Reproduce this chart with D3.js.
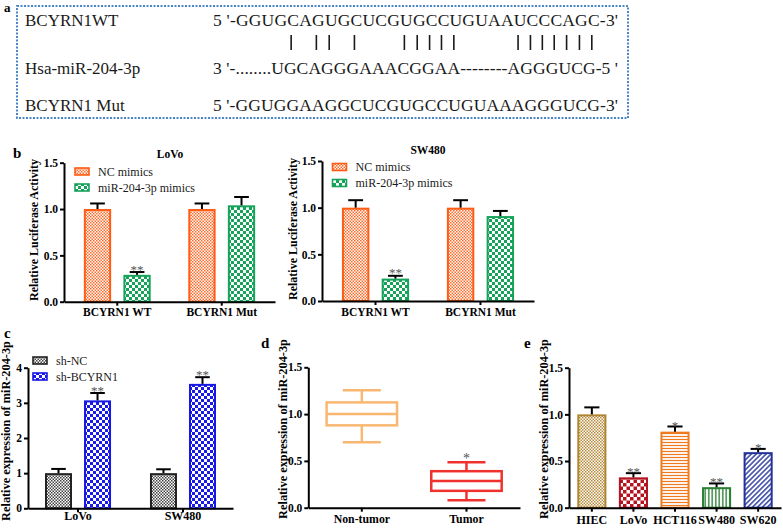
<!DOCTYPE html>
<html><head><meta charset="utf-8">
<script src="https://cdn.jsdelivr.net/npm/d3@7"></script>
<style>
body{margin:0;background:#fff}
svg{display:block}
svg text{font-family:'Liberation Serif','DejaVu Serif','Noto Serif',serif !important}
</style>
</head><body>
<svg id="chart" width="783" height="528" font-family="'Liberation Serif','DejaVu Serif',serif"></svg>
<script>
// ---------- DATA ----------
// Panel a
const seqLabels = ["BCYRN1WT", "Hsa-miR-204-3p", "BCYRN1 Mut"];
const seqTexts = [
  "5 '-GGUGCAGUGCUCGUGCCUGUAAUCCCAGC-3'",
  "3 '-........UGCAGGGAAACGGAA--------AGGGUCG-5 '",
  "5 '-GGUGGAAGGCUCGUGCCUGUAAAGGGUCG-3'"
];
// character indices (in the WT string) that carry a pairing bar
const pairIndex = [8, 10, 11, 13, 17, 18, 19, 20, 21, 26, 27, 28, 29, 30, 31, 32];

// Panel b
const bGroups = ["BCYRN1 WT", "BCYRN1 Mut"];
const bSeries = ["NC mimics", "miR-204-3p mimics"];
const lovoNC = [1.00, 1.00];
const lovoNCErr = [0.06, 0.06];
const lovoMimic = [0.29, 1.04];
const lovoMimicErr = [0.03, 0.09];
const lovoSig = [["", ""], ["**", ""]];
const swNC = [1.00, 1.00];
const swNCErr = [0.08, 0.08];
const swMimic = [0.24, 0.91];
const swMimicErr = [0.03, 0.055];
const swSig = [["", ""], ["**", ""]];
const bTicks = [0, 0.5, 1.0, 1.5];

// Panel c
const cGroups = ["LoVo", "SW480"];
const cSeries = ["sh-NC", "sh-BCYRN1"];
const shNC = [1.00, 1.00];
const shNCErr = [0.12, 0.11];
const shB = [3.07, 3.54];
const shBErr = [0.21, 0.19];
const cSig = [["", ""], ["**", "**"]];
const cTicks = [0, 1, 2, 3, 4];

// Panel d
const dCategories = ["Non-tumor", "Tumor"];
const dMin = [0.70, 0.08];
const dQ1 = [0.88, 0.18];
const dMedian = [1.00, 0.285];
const dQ3 = [1.125, 0.39];
const dMax = [1.255, 0.485];
const dSig = ["", "*"];
const dTicks = [0, 0.5, 1.0, 1.5];

// Panel e
const eCells = ["HIEC", "LoVo", "HCT116", "SW480", "SW620"];
const eValues = [1.00, 0.325, 0.815, 0.22, 0.595];
const eErr = [0.075, 0.045, 0.055, 0.04, 0.035];
const eSig = ["", "**", "*", "**", "*"];
const eTicks = [0, 0.5, 1.0, 1.5];

// ---------- DRAW ----------
const svg = d3.select("#chart");
const defs = svg.append("defs");
const FONT = "'Liberation Serif','DejaVu Serif',serif";

function checker(id, s, color, bg) {
  const p = defs.append("pattern").attr("id", id).attr("patternUnits", "userSpaceOnUse")
    .attr("width", s * 2).attr("height", s * 2);
  p.append("rect").attr("width", s * 2).attr("height", s * 2).attr("fill", bg || "#fff");
  p.append("rect").attr("width", s).attr("height", s).attr("fill", color);
  p.append("rect").attr("x", s).attr("y", s).attr("width", s).attr("height", s).attr("fill", color);
}
function stripes(id, s, color, angle, lw) {
  const p = defs.append("pattern").attr("id", id).attr("patternUnits", "userSpaceOnUse")
    .attr("width", s).attr("height", s).attr("patternTransform", `rotate(${angle})`);
  p.append("rect").attr("width", s).attr("height", s).attr("fill", "#fff");
  p.append("line").attr("x1", 0).attr("y1", s / 2).attr("x2", s).attr("y2", s / 2)
    .attr("stroke", color).attr("stroke-width", lw);
}
checker("pNC", 1.5, "#FF6A2A");
checker("pMim", 3, "#17A25A");
checker("pShNC", 1.5, "#444");
checker("pShB", 3, "#1A1AE8");
checker("pHIEC", 1.5, "#B98A3A");
checker("pLoVo", 3.5, "#B5141E");
stripes("pHCT", 3, "#EF7A1F", 0, 1.2);
stripes("pSW480", 3.5, "#2C8035", 90, 1.4);
stripes("pSW620", 3.5, "#22329A", -45, 1.4);

function txt(x, y, fs) {
  return svg.append("text").attr("x", x).attr("y", y).attr("font-size", fs).attr("font-family", FONT);
}
function letter(t, x, y, fs) {
  txt(x, y, fs || 15).attr("font-weight", "bold").text(t);
}

// ----- Panel a -----
letter("a", 4, 12, 13);
svg.append("rect").attr("x", 17).attr("y", 6).attr("width", 611).attr("height", 112)
  .attr("fill", "none").attr("stroke", "#4A86C8").attr("stroke-width", 2)
  .attr("stroke-dasharray", "2,1.5");
const rowY = [26, 74, 111];
seqLabels.forEach((t, i) => {
  txt(25, rowY[i], 17).attr("fill", "#1a1a1a").text(t);
});
const seqNodes = seqTexts.map((t, i) =>
  txt(213, rowY[i], 17.5).attr("fill", "#1a1a1a").attr("textLength", 405)
    .attr("lengthAdjust", "spacing").text(t).node());
pairIndex.forEach(ci => {
  const ext = seqNodes[0].getExtentOfChar(ci);
  const cx = ext.x + ext.width / 2 - 2;
  svg.append("line").attr("x1", cx).attr("x2", cx).attr("y1", 35).attr("y2", 50)
    .attr("stroke", "#1a1a1a").attr("stroke-width", 1.6);
});

// ----- helpers -----
function styleAxis(g, fs) {
  g.attr("font-family", FONT);
  g.selectAll("path,line").attr("stroke", "#000").attr("stroke-width", 2);
  g.selectAll("text").attr("font-family", FONT).attr("font-weight", "bold")
    .attr("font-size", fs || 11.5).attr("fill", "#000");
}
function yAxis(y, x0, ticks, fmt) {
  const g = svg.append("g").attr("transform", `translate(${x0},0)`)
    .call(d3.axisLeft(y).tickValues(ticks).tickFormat(fmt).tickSize(4).tickSizeOuter(0).tickPadding(2));
  styleAxis(g);
}
function xAxis(x, y0, fs, pad) {
  const g = svg.append("g").attr("transform", `translate(0,${y0})`)
    .call(d3.axisBottom(x).tickSize(4).tickSizeOuter(0).tickPadding(pad));
  styleAxis(g, fs);
}
function yLabel(t, x, cy, fs) {
  svg.append("text").attr("transform", `translate(${x},${cy}) rotate(-90)`).attr("font-family", FONT)
    .attr("text-anchor", "middle").attr("font-size", fs || 12.3).attr("font-weight", "bold").text(t);
}
function errBar(cx, y, v, e, cap) {
  svg.append("line").attr("x1", cx).attr("x2", cx).attr("y1", y(v)).attr("y2", y(v + e))
    .attr("stroke", "#000").attr("stroke-width", 2);
  svg.append("line").attr("x1", cx - cap).attr("x2", cx + cap).attr("y1", y(v + e)).attr("y2", y(v + e))
    .attr("stroke", "#000").attr("stroke-width", 2);
}
function star(t, cx, yy, fs) {
  if (!t) return;
  txt(cx, yy, fs || 13).attr("text-anchor", "middle").attr("fill", "#555").text(t);
}

function groupedPanel(cfg) {
  const x0 = d3.scaleBand().domain(cfg.groups).range(cfg.xRange)
    .paddingInner(cfg.pIn).paddingOuter(cfg.pOut);
  const x1 = d3.scaleBand().domain(cfg.series).range([0, x0.bandwidth()]).paddingInner(cfg.pSub);
  const y = d3.scaleLinear().domain([0, cfg.yMax]).range(cfg.yRange);
  cfg.series.forEach((s, si) => {
    cfg.groups.forEach((g, gi) => {
      const v = cfg.values[si][gi], e = cfg.errors[si][gi];
      const bx = x0(g) + x1(s), bw = x1.bandwidth();
      svg.append("rect").attr("x", bx + 1).attr("y", y(v) + 1).attr("width", bw - 2)
        .attr("height", y(0) - y(v) - 1).attr("fill", `url(#${cfg.patterns[si]})`)
        .attr("stroke", cfg.colors[si]).attr("stroke-width", 2);
      errBar(bx + bw / 2, y, v, e, bw * 0.27);
      star(cfg.sig[si][gi], bx + bw / 2, y(v + e) + 1.5);
    });
  });
  xAxis(x0, y(0), cfg.catFs || 11.5, cfg.catPad);
  yAxis(y, cfg.xRange[0], cfg.ticks, cfg.fmt);
  // legend
  cfg.series.forEach((s, si) => {
    const ly = cfg.legend[1] + si * 16;
    svg.append("rect").attr("x", cfg.legend[0]).attr("y", ly - 3.5).attr("width", 14).attr("height", 7)
      .attr("fill", `url(#${cfg.patterns[si]})`).attr("stroke", cfg.colors[si]).attr("stroke-width", 1.6);
    txt(cfg.legend[0] + 23, ly + 4, 12).attr("fill", "#1a1a1a").text(s);
  });
}

// ----- Panel b -----
letter("b", 13, 158, 15);
txt(170, 158, 11.5).attr("text-anchor", "middle").attr("font-weight", "bold").text("LoVo");
groupedPanel({
  groups: bGroups, series: bSeries, values: [lovoNC, lovoMimic], errors: [lovoNCErr, lovoMimicErr],
  sig: [lovoSig[0], lovoSig[1]], colors: ["#FF5B12", "#17A25A"], patterns: ["pNC", "pMim"],
  xRange: [64, 275], yRange: [301.7, 162.7], yMax: 1.5, ticks: bTicks, fmt: d3.format(".1f"),
  pIn: 0.36, pOut: 0.19, pSub: 0.31, legend: [75, 171.5], catPad: 2.5
});
yLabel("Relative Luciferase Activity", 38, 230, 12);

txt(428, 154, 11.5).attr("text-anchor", "middle").attr("font-weight", "bold").text("SW480");
groupedPanel({
  groups: bGroups, series: bSeries, values: [swNC, swMimic], errors: [swNCErr, swMimicErr],
  sig: [swSig[0], swSig[1]], colors: ["#FF5B12", "#17A25A"], patterns: ["pNC", "pMim"],
  xRange: [322, 534], yRange: [301, 161], yMax: 1.5, ticks: bTicks, fmt: d3.format(".1f"),
  pIn: 0.36, pOut: 0.19, pSub: 0.31, legend: [332.5, 167], catPad: 2.5
});
yLabel("Relative Luciferase Activity", 297, 229, 12);

// ----- Panel c -----
letter("c", 4, 338, 15);
groupedPanel({
  groups: cGroups, series: cSeries, values: [shNC, shB], errors: [shNCErr, shBErr],
  sig: [cSig[0], cSig[1]], colors: ["#222", "#1616E6"], patterns: ["pShNC", "pShB"],
  xRange: [28, 233], yRange: [508.3, 367.7], yMax: 4, ticks: cTicks, fmt: d3.format("d"),
  pIn: 0.371, pOut: 0.162, pSub: 0.308, legend: [33, 360.5], catFs: 12, catPad: -0.5
});
yLabel("Relative expression of miR-204-3p", 10, 431);

// ----- Panel d -----
letter("d", 261, 348, 15);
{
  const x = d3.scaleBand().domain(dCategories).range([308.3, 520]).paddingInner(0.327).paddingOuter(0.175);
  const y = d3.scaleLinear().domain([0, 1.5]).range([507.7, 367.3]);
  const cols = ["#F9B872", "#F0322E"];
  dCategories.forEach((c, i) => {
    const bx = x(c), bw = x.bandwidth(), cx = bx + bw / 2, cap = bw * 0.27;
    const g = svg.append("g").attr("stroke", cols[i]).attr("stroke-width", 2.5).attr("fill", "none");
    g.append("line").attr("x1", cx).attr("x2", cx).attr("y1", y(dMax[i])).attr("y2", y(dQ3[i]));
    g.append("line").attr("x1", cx).attr("x2", cx).attr("y1", y(dQ1[i])).attr("y2", y(dMin[i]));
    g.append("line").attr("x1", cx - cap).attr("x2", cx + cap).attr("y1", y(dMax[i])).attr("y2", y(dMax[i]));
    g.append("line").attr("x1", cx - cap).attr("x2", cx + cap).attr("y1", y(dMin[i])).attr("y2", y(dMin[i]));
    g.append("rect").attr("x", bx).attr("y", y(dQ3[i])).attr("width", bw).attr("height", y(dQ1[i]) - y(dQ3[i]));
    g.append("line").attr("x1", bx).attr("x2", bx + bw).attr("y1", y(dMedian[i])).attr("y2", y(dMedian[i]));
    star(dSig[i], cx, y(dMax[i]) + 1, 14);
  });
  xAxis(x, y(0), 11.8, 3.3);
  yAxis(y, 308.3, dTicks, d3.format(".1f"));
}
yLabel("Relative expression of miR-204-3p", 287, 429);

// ----- Panel e -----
letter("e", 524, 348, 15);
{
  const x = d3.scaleBand().domain(eCells).range([569, 781]).paddingInner(0.3).paddingOuter(0.2);
  const y = d3.scaleLinear().domain([0, 1.5]).range([507.7, 367.7]);
  const cols = ["#B0852F", "#B3121E", "#EF7A1F", "#2C8035", "#22329A"];
  const pats = ["pHIEC", "pLoVo", "pHCT", "pSW480", "pSW620"];
  eCells.forEach((c, i) => {
    const bx = x(c), bw = x.bandwidth(), v = eValues[i];
    svg.append("rect").attr("x", bx + 1).attr("y", y(v) + 1).attr("width", bw - 2)
      .attr("height", y(0) - y(v) - 1).attr("fill", `url(#${pats[i]})`)
      .attr("stroke", cols[i]).attr("stroke-width", 2);
    errBar(bx + bw / 2, y, v, eErr[i], bw * 0.26);
    star(eSig[i], bx + bw / 2, y(v + eErr[i]) + 3);
  });
  xAxis(x, y(0), 12, 3.3);
  yAxis(y, 569, eTicks, d3.format(".1f"));
}
yLabel("Relative expression of miR-204-3p", 548, 429);
</script>
</body></html>
